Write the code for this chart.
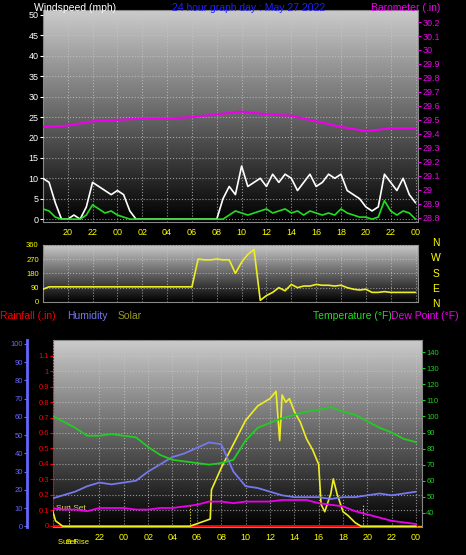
import numpy as np, pandas as pd, seaborn as sns, matplotlib
matplotlib.use("Agg")
import matplotlib.pyplot as plt

sns.set_style("dark")
plt.rcParams['font.family'] = ['Liberation Sans', 'DejaVu Sans']

t_half = [18 + 0.5 * i for i in range(61)]
gust = [10,9,4,0,0,1,0,3,9,8,7,6,7,6,2] + [0]*14 + [5,8,6,13,8,9,10,8,11,9,11,10,7,9,11,8,9,11,10,11,7,6,5,3,2,3,11,9,7,10,6,4]
avg = [2.5,2,0.5,0,0,0,0,1,3.5,2.5,1.5,2,1,0.5,0] + [0]*14 + [0,1,2,1.5,1,1.5,2,2.5,1.5,2,2.5,1.5,2,1,2,1.5,1,1.5,1,2.5,1.5,1,0.5,0.5,0,0.5,4.5,2,1,2,1.5,0]
t_baro = list(range(18, 49, 2))
baro = [29.45,29.46,29.49,29.50,29.51,29.51,29.52,29.54,29.56,29.54,29.53,29.49,29.45,29.42,29.44,29.44]
wdir = [80,95] + [95]*23 + [270,265,265,270,265,265,180,250,300,330,10,40,60,90,70,110,90,100,100,110,105,105,100,105,90,80,75,80,60,60,65,60,60,60,60,60]
t_hour = list(range(18, 49))
temp = [101,97,93,88,88,89,88,87,81,76,73,72,71,70,71,73,85,93,96,99,101,103,104,106,103,101,97,93,90,86,84]
hum = [15,17,19,22,24,23,24,25,30,34,38,40,43,46,45,30,22,21,19,17,16,16,16,15,16,16,17,18,17,18,19]
dew = [43,42,42,41,43,43,43,42,42,43,43,44,45,47,47,46,47,47,47,48,48,48,46,45,44,41,39,37,35,34,33]
t_sol = [18,18.4,19,29.4,31.1,31.2,32,33,34,35,36,36.5,36.8,37.0,37.3,37.6,38,38.5,39,39.5,40,40.2,40.5,41,41.2,41.5,42,42.4,43,43.5,48]
solar = [12,3,0,0,4,20,32,45,58,66,70,74,47,72,68,70,63,57,48,42,34,12,8,18,26,18,8,6,2,0,0]
rain = [0]*31
xticks = list(range(20, 49, 2))
xlabels = ["%02d" % (h % 24) for h in xticks]

fig = plt.figure(figsize=(4.66, 5.55), dpi=100, facecolor='black')
grad = np.linspace(0.8, 0.0, 256).reshape(-1, 1)

def bg(ax):
    ax.imshow(grad, cmap='gray', vmin=0, vmax=1, aspect='auto', extent=[0, 1, 0, 1],
              transform=ax.transAxes, zorder=0)
    ax.grid(True, color='#c8c8c8', linestyle=':', linewidth=0.8, alpha=0.7)
    ax.set_axisbelow(False)
    for s in ax.spines.values():
        s.set_color('#888888')

fs = 6.5
hfs = 7.5
# top
ax1 = fig.add_axes([0.092, 0.6, 0.805, 0.382])
bg(ax1)
sns.lineplot(x=t_half, y=gust, ax=ax1, color='white', lw=1.2, zorder=3)
sns.lineplot(x=t_half, y=avg, ax=ax1, color='#22dd22', lw=1.2, zorder=4)
ax1.set_xlim(18, 48.2); ax1.set_ylim(-0.7, 51.2)
ax1.set_yticks(range(0, 51, 5))
ax1.set_xticks(xticks); ax1.set_xticklabels(xlabels)
ax1.tick_params(axis='y', colors='white', labelsize=fs, length=2, pad=1)
ax1.tick_params(axis='x', colors='yellow', labelsize=fs, length=2, pad=2)
ax1.set_xlabel(''); ax1.set_ylabel('')
ax1b = ax1.twinx()
sns.lineplot(x=t_baro, y=baro, ax=ax1b, color='#ee00ee', lw=1.5)
ax1b.set_ylim(28.77, 30.286)
bt = np.round(np.arange(28.8, 30.21, 0.1), 1)
ax1b.set_yticks(bt)
ax1b.set_yticklabels(["%g" % v for v in bt])
ax1b.tick_params(axis='y', colors='#ee00ee', labelsize=fs, length=2, pad=1)
ax1b.set_ylabel('')
for s in ax1b.spines.values(): s.set_visible(False)
fig.text(0.073, 0.995, "Windspeed (mph)", color='white', fontsize=hfs, va='top')
fig.text(0.37, 0.995, "24 hour graph day : May 27 2022", color='#2020ff', fontsize=hfs, va='top')
fig.text(0.796, 0.995, "Barometer (.in)", color='#ee00ee', fontsize=hfs, va='top')

# middle
ax2 = fig.add_axes([0.092, 0.456, 0.805, 0.103])
bg(ax2)
sns.lineplot(x=t_half, y=wdir, ax=ax2, color='#eeee22', lw=1.2, zorder=3)
ax2.set_xlim(18, 48.2); ax2.set_ylim(0, 360)
ax2.set_yticks([0, 90, 180, 270, 360]); ax2.set_xticks(xticks); ax2.set_xticklabels([])
ax2.tick_params(axis='y', colors='yellow', labelsize=5.5, length=2, pad=1)
ax2.tick_params(axis='x', length=0)
ax2.set_ylabel('')
for i, c in enumerate("NWSEN"):
    fig.text(0.935, 0.562 - i * 0.0275, c, color='yellow', fontsize=hfs, va='center', ha='center')

# bottom
ax3 = fig.add_axes([0.114, 0.05, 0.792, 0.337])
bg(ax3)
sns.lineplot(x=t_hour, y=rain, ax=ax3, color='red', lw=2, zorder=5)
ax3.set_xlim(18.2, 48.5); ax3.set_ylim(-0.01, 1.2)
rt = np.round(np.arange(0, 1.11, 0.1), 1)
ax3.set_yticks(rt)
ax3.set_yticklabels(["%g" % v for v in rt])
ax3.tick_params(axis='y', colors='red', labelsize=5.5, length=2, pad=1)
ax3.set_xticks(xticks[1:]); ax3.set_xticklabels(xlabels[1:])
ax3.tick_params(axis='x', colors='yellow', labelsize=fs, length=2, pad=2)
ax3.spines['left'].set_color('red'); ax3.spines['left'].set_linestyle(':')
ax3.set_ylabel('')
axh = ax3.twinx()
axh.spines['left'].set_position(('axes', -0.07))
axh.spines['left'].set_visible(True); axh.spines['left'].set_color('#6666ff'); axh.spines['left'].set_linewidth(2)
axh.yaxis.set_label_position('left'); axh.yaxis.set_ticks_position('left')
for k in ['right', 'top', 'bottom']: axh.spines[k].set_visible(False)
sns.lineplot(x=t_sol, y=solar, ax=axh, color='#eeee22', lw=1.2, zorder=4)
sns.lineplot(x=t_hour, y=hum, ax=axh, color='#7777ee', lw=1.3, zorder=4)
axh.set_ylim(-0.5, 102)
axh.set_yticks(range(0, 101, 10))
axh.tick_params(axis='y', colors='#6666ff', labelsize=5.5, length=2, pad=1)
axh.set_ylabel('')
axt = ax3.twinx()
for s in axt.spines.values(): s.set_visible(False)
sns.lineplot(x=t_hour, y=temp, ax=axt, color='#22cc22', lw=1.3, zorder=4)
sns.lineplot(x=t_hour, y=dew, ax=axt, color='#ee00ee', lw=1.3, zorder=4)
axt.set_ylim(31, 147.5)
axt.set_yticks(range(40, 141, 10))
axt.tick_params(axis='y', colors='#22cc22', labelsize=5.5, length=2, pad=1)
axt.set_ylabel('')
for xv in [19.5, 29.4, 43.6]:
    ax3.axvline(xv, color='yellow', ls=':', lw=0.8, ymax=0.12)
ax3.axhline(0, color='orange', lw=1, zorder=4)
ax3.text(18.4, 0.1, "Sun Set", color='#dddd44', fontsize=6)
fig.text(0.125, 0.028, "Sun Rise", color='yellow', fontsize=5.5, va='top')
fig.text(0.14, 0.028, "Set", color='yellow', fontsize=5.5, va='top')
fig.text(0.0, 0.425, "Rainfall (.in)", color='red', fontsize=hfs)
fig.text(0.143, 0.425, "Humidity", color='#7777ee', fontsize=hfs)
fig.text(0.252, 0.425, "Solar", color='#999922', fontsize=hfs)
fig.text(0.671, 0.425, "Temperature (°F)", color='#22dd22', fontsize=hfs)
fig.text(0.84, 0.425, "Dew Point (°F)", color='#ee00ee', fontsize=hfs)
fig.savefig("out.png", dpi=100, facecolor='black')
